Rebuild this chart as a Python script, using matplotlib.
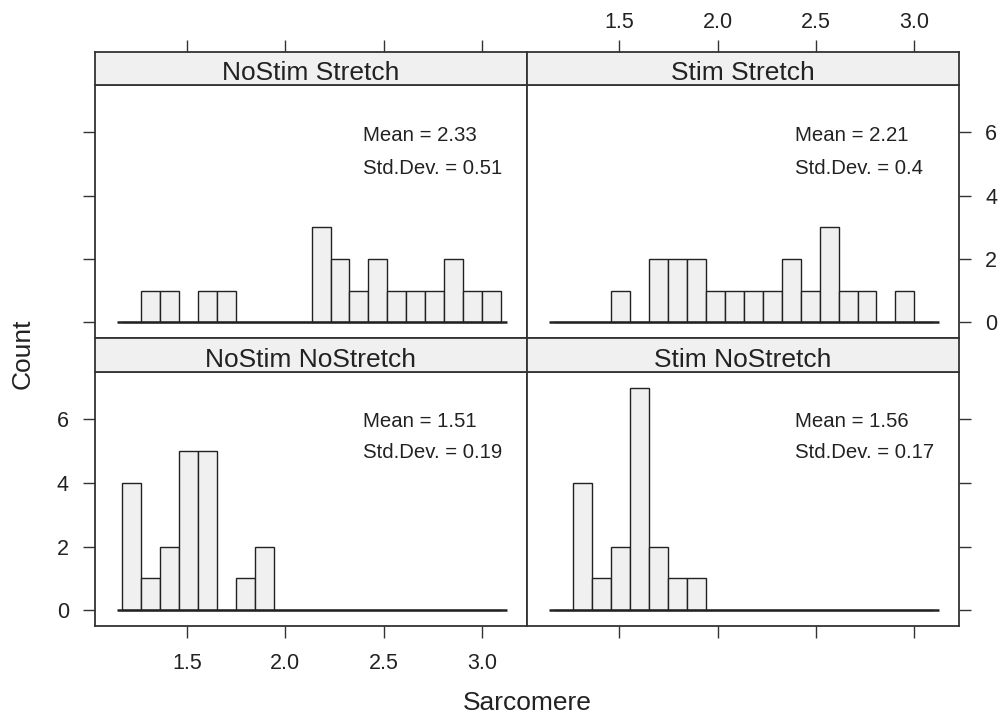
import numpy as np
import matplotlib.pyplot as plt

plt.rcParams['font.family'] = ['Liberation Sans', 'DejaVu Sans']

# histogram bins shared by all four panels
bin_lo = 1.171
bin_hi = 3.096
n_bins = 20

panel_titles = ['NoStim Stretch', 'Stim Stretch', 'NoStim NoStretch', 'Stim NoStretch']

nostim_stretch = [0, 1, 1, 0, 1, 1, 0, 0, 0, 0, 3, 2, 1, 2, 1, 1, 1, 2, 1, 1]
stim_stretch = [0, 0, 0, 1, 0, 2, 2, 2, 1, 1, 1, 1, 2, 1, 3, 1, 1, 0, 1, 0]
nostim_nostretch = [4, 1, 2, 5, 5, 0, 1, 2, 0, 0, 0, 0, 0, 0, 0, 0, 0, 0, 0, 0]
stim_nostretch = [0, 4, 1, 2, 7, 2, 1, 1, 0, 0, 0, 0, 0, 0, 0, 0, 0, 0, 0, 0]

means = [2.33, 2.21, 1.51, 1.56]
std_devs = [0.51, 0.4, 0.19, 0.17]

x_ticks = [1.5, 2.0, 2.5, 3.0]
x_tick_labels = ['1.5', '2.0', '2.5', '3.0']
y_ticks = [0, 2, 4, 6]

counts_all = [nostim_stretch, stim_stretch, nostim_nostretch, stim_nostretch]

W, H = 1000, 725
fig = plt.figure(figsize=(W / 100, H / 100), dpi=100)
fig.patch.set_facecolor('white')


def box(x0, y0, x1, y1):
    return [x0 / W, 1 - y1 / H, (x1 - x0) / W, (y1 - y0) / H]


edge_col = '#333333'
fill_col = '#F0F0F0'
text_col = '#222222'
x_range = (1.03, 3.228)

cols = [(94.7, 526.7), (526.7, 959.3)]
rows = [(52, 85, 337.7), (337.7, 372, 625.7)]

edges = np.linspace(bin_lo, bin_hi, n_bins + 1)
bw = edges[1] - edges[0]

for i in range(4):
    r, c = divmod(i, 2)
    x0, x1 = cols[c]
    s0, p0, p1 = rows[r]

    ax = fig.add_axes(box(x0, p0, x1, p1))
    ax.bar(edges[:-1], counts_all[i], width=bw, align='edge',
           color=fill_col, edgecolor=text_col, linewidth=1.0, zorder=2)
    ax.hlines(0, bin_lo - 0.03, bin_hi + 0.03, color=text_col, linewidth=1.8, zorder=3)

    ax.set_xlim(*x_range)
    ax.set_ylim(-0.49, 7.49)
    ax.set_xticks(x_ticks)
    ax.set_xticklabels(x_tick_labels)
    ax.set_yticks(y_ticks)
    for sp in ax.spines.values():
        sp.set_color(edge_col)
        sp.set_linewidth(1.3)

    ax.tick_params(direction='out', length=8.8, width=1.0, color=edge_col,
                   labelsize=15.5, labelcolor=text_col)
    ax.tick_params(top=False, labeltop=False)
    ax.tick_params(bottom=(r == 1), labelbottom=(i == 2))
    ax.tick_params(left=(c == 0), labelleft=(i == 2))
    ax.tick_params(right=(c == 1), labelright=(i == 1))
    ax.tick_params(axis='x', pad=11)
    ax.tick_params(axis='y', pad=9.8)

    ty1 = 0.80 if r == 0 else 0.804
    ty2 = 0.668 if r == 0 else 0.681
    ax.text(0.621, ty1, f'Mean = {means[i]}', transform=ax.transAxes,
            ha='left', va='center', fontsize=14.7, color=text_col)
    ax.text(0.621, ty2, f'Std.Dev. = {std_devs[i]}', transform=ax.transAxes,
            ha='left', va='center', fontsize=14.7, color=text_col)

    # strip with the panel title; top row carries the upper x axis
    sx = fig.add_axes(box(x0, s0, x1, p0))
    sx.set_facecolor(fill_col)
    sx.set_xlim(*x_range)
    sx.set_yticks([])
    if r == 0:
        sx.set_xticks(x_ticks)
        sx.set_xticklabels(x_tick_labels)
        sx.tick_params(axis='x', direction='out', length=8.8, width=1.0, color=edge_col,
                       labelsize=15.5, labelcolor=text_col, pad=5,
                       top=True, bottom=False, labeltop=(i == 1), labelbottom=False)
    else:
        sx.set_xticks([])
    for sp in sx.spines.values():
        sp.set_color(edge_col)
        sp.set_linewidth(1.3)
    sx.text(0.5, 0.14, panel_titles[i], transform=sx.transAxes,
            ha='center', va='baseline', fontsize=19, color=text_col)

fig.text(22.5 / W, 1 - 354 / H, 'Count', rotation=90, ha='center', va='center',
         fontsize=19, color=text_col)
fig.text(527 / W, 1 - 703 / H, 'Sarcomere', ha='center', va='center',
         fontsize=19, color=text_col)

fig.savefig('out.png', dpi=100)
